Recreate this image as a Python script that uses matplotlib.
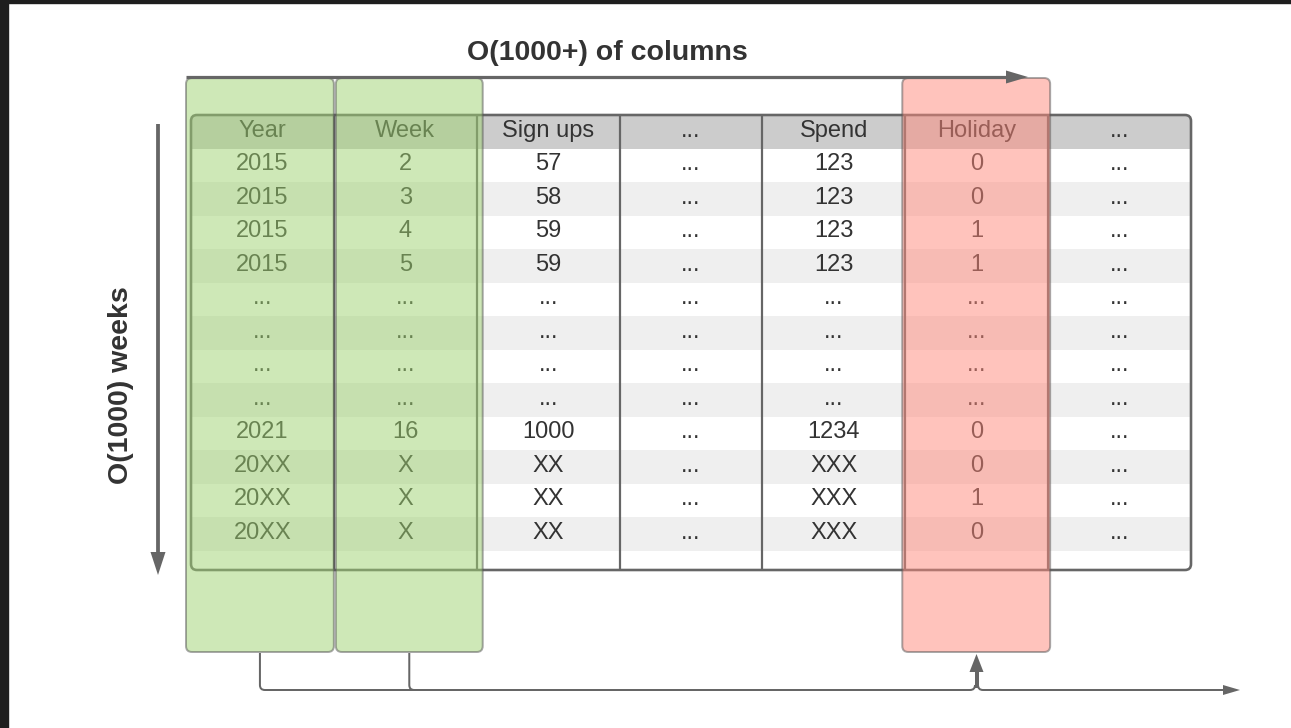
import matplotlib
matplotlib.use("Agg")
import matplotlib.pyplot as plt
from matplotlib.patches import FancyBboxPatch, Rectangle, Polygon, PathPatch
from matplotlib.path import Path

# ---------------- data ----------------
columns = ["Year", "Week", "Sign ups", "...", "Spend", "Holiday", "..."]
year = ["2015", "2015", "2015", "2015", "...", "...", "...", "...", "2021", "20XX", "20XX", "20XX"]
week = ["2", "3", "4", "5", "...", "...", "...", "...", "16", "X", "X", "X"]
sign_ups = ["57", "58", "59", "59", "...", "...", "...", "...", "1000", "XX", "XX", "XX"]
gap_a = ["..."] * 12
spend = ["123", "123", "123", "123", "...", "...", "...", "...", "1234", "XXX", "XXX", "XXX"]
holiday = ["0", "0", "1", "1", "...", "...", "...", "...", "0", "0", "1", "0"]
gap_b = ["..."] * 12
table_cols = [year, week, sign_ups, gap_a, spend, holiday, gap_b]
green_cols = ["Year", "Week"]
red_cols = ["Holiday"]
title_cols = "O(1000+) of columns"
title_rows = "O(1000) weeks"

# ---------------- layout ----------------
W, H = 1291, 728
fig = plt.figure(figsize=(W / 100, H / 100), dpi=100)
ax = fig.add_axes([0, 0, 1, 1])
ax.set_xlim(0, W)
ax.set_ylim(H, 0)
ax.axis("off")

PX = 0.72  # px -> pt
GRAY = "#666666"
TXT = "#333333"
FONT = ["Liberation Sans", "DejaVu Sans"]

# dark frame edges
ax.add_patch(Rectangle((0, 0), W, 3, color="#1e1e1e", zorder=10))
ax.add_patch(Rectangle((0, 0), 7.5, H, color="#1e1e1e", zorder=10))

tx0, tx1 = 191, 1191
ty0, ty1 = 115, 570
ncol = len(columns)
nrow = len(year)
cw = (tx1 - tx0) / ncol
rh = 33.5
col_x = [tx0 + i * cw for i in range(ncol + 1)]

# table background & border
border = FancyBboxPatch((tx0, ty0), tx1 - tx0, ty1 - ty0,
                        boxstyle="round,pad=0,rounding_size=6",
                        facecolor="white", edgecolor="none", zorder=1)
ax.add_patch(border)
hdr = Rectangle((tx0, ty0), tx1 - tx0, rh, facecolor="#cccccc", edgecolor="none", zorder=1.1)
hdr.set_clip_path(border)
ax.add_patch(hdr)
for r in range(nrow):
    if r % 2 == 1:
        ax.add_patch(Rectangle((tx0, ty0 + rh * (r + 1)), tx1 - tx0, rh,
                               facecolor="#efefef", edgecolor="none", zorder=1.1))
for x in col_x[1:-1]:
    ax.plot([x, x], [ty0, ty1], color=GRAY, lw=2.2 * PX, zorder=1.5, solid_capstyle="butt")
ax.add_patch(FancyBboxPatch((tx0, ty0), tx1 - tx0, ty1 - ty0,
                            boxstyle="round,pad=0,rounding_size=6",
                            facecolor="none", edgecolor=GRAY, lw=2.6 * PX, zorder=1.6))

# texts
for c, name in enumerate(columns):
    cx = (col_x[c] + col_x[c + 1]) / 2
    ax.text(cx, ty0 + rh / 2 - 1, name, ha="center", va="center", fontsize=17,
            color=TXT, family=FONT, zorder=2)
    for r, val in enumerate(table_cols[c]):
        ax.text(cx, ty0 + rh * (r + 1.5) - 1, val, ha="center", va="center",
                fontsize=17, color=TXT, family=FONT, zorder=2)

# highlight overlays
def overlay(ci, dx0, dx1, face):
    x0 = col_x[ci] + dx0
    x1 = col_x[ci + 1] + dx1
    p = FancyBboxPatch((x0, 78), x1 - x0, 652 - 78,
                       boxstyle="round,pad=0,rounding_size=6",
                       facecolor=face + (0.5,), edgecolor=(0.33, 0.33, 0.33, 0.5),
                       lw=2.0 * PX, zorder=3)
    ax.add_patch(p)
    return (x0 + x1) / 2

green = (0.624, 0.827, 0.443)
red = (1.0, 0.537, 0.482)
gc = []
for name in green_cols:
    i = columns.index(name)
    dx0, dx1 = (-5, 0) if i == 0 else (2, 6)
    gc.append(overlay(i, dx0, dx1, green))
for name in red_cols:
    i = columns.index(name)
    rc = overlay(i, -3, 2, red)

# titles
ax.text(607, 53, title_cols, ha="center", va="center", fontsize=20.5,
        fontweight="bold", color=TXT, family=FONT, zorder=4)
ax.text(121, 385, title_rows, ha="center", va="center", fontsize=20.5,
        fontweight="bold", color=TXT, family=FONT, rotation=90, zorder=4)

# arrows
def head(tip, direction, length, half):
    x, y = tip
    if direction == "right":
        pts = [(x, y), (x - length, y - half), (x - length, y + half)]
    elif direction == "down":
        pts = [(x, y), (x - half, y - length), (x + half, y - length)]
    else:  # up
        pts = [(x, y), (x - half, y + length), (x + half, y + length)]
    ax.add_patch(Polygon(pts, closed=True, facecolor=GRAY, edgecolor="none", zorder=5))

# top horizontal arrow
ax.plot([186, 1008], [77, 77], color=GRAY, lw=3.2 * PX, zorder=4, solid_capstyle="butt")
head((1028, 77), "right", 22, 6.5)
# left vertical arrow
ax.plot([158, 158], [124, 554], color=GRAY, lw=3.8 * PX, zorder=4, solid_capstyle="butt")
head((158, 575), "down", 23, 7.5)

# bottom connectors
r_ = 5
yb = 690
ux = 976.5
verts = [(gc[0], 653), (gc[0], yb - r_), (gc[0], yb), (gc[0] + r_, yb),
         (ux - r_ - 1.5, yb), (ux - 1.5, yb), (ux - 1.5, yb - r_)]
codes = [Path.MOVETO, Path.LINETO, Path.CURVE3, Path.CURVE3,
         Path.LINETO, Path.CURVE3, Path.CURVE3]
ax.add_patch(PathPatch(Path(verts, codes), facecolor="none", edgecolor=GRAY,
                       lw=2.0 * PX, zorder=4))
verts = [(gc[1], 653), (gc[1], yb - r_), (gc[1], yb), (gc[1] + r_, yb)]
codes = [Path.MOVETO, Path.LINETO, Path.CURVE3, Path.CURVE3]
ax.add_patch(PathPatch(Path(verts, codes), facecolor="none", edgecolor=GRAY,
                       lw=2.0 * PX, zorder=4))
verts = [(ux + 1.5, yb - r_), (ux + 1.5, yb), (ux + 1.5 + r_, yb), (1224, yb)]
codes = [Path.MOVETO, Path.CURVE3, Path.CURVE3, Path.LINETO]
ax.add_patch(PathPatch(Path(verts, codes), facecolor="none", edgecolor=GRAY,
                       lw=2.0 * PX, zorder=4))
head((1240, yb), "right", 17, 5)
# upward arrow into holiday box
ax.plot([ux, ux], [yb - 2, 671], color=GRAY, lw=4.0 * PX, zorder=4, solid_capstyle="butt")
head((ux, 654), "up", 18, 7)

fig.savefig("out.png", dpi=100, facecolor="white")
